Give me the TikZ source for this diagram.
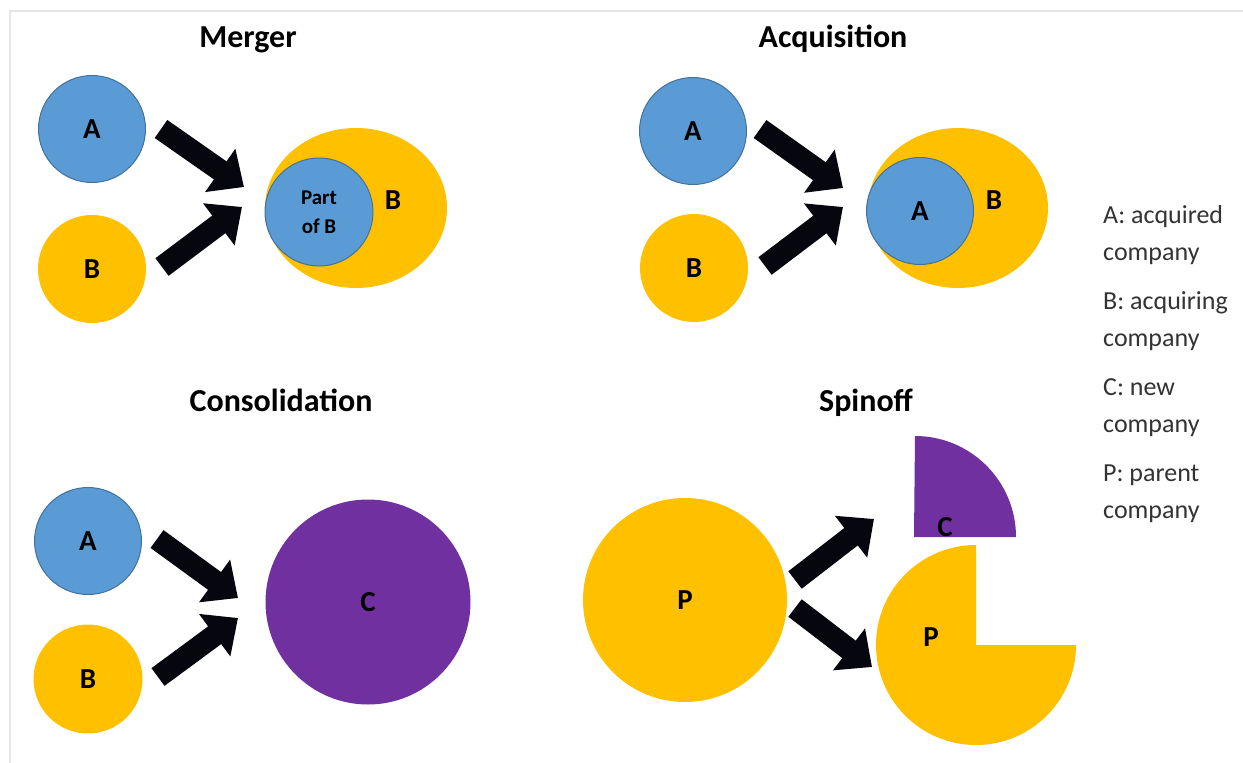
\documentclass[tikz,border=0pt]{standalone}
\usepackage{fontspec}
\setmainfont{Carlito}
\usetikzlibrary{arrows.meta,shapes.geometric}

\definecolor{coblue}{HTML}{5B9BD5}
\definecolor{coblueline}{HTML}{41719C}
\definecolor{cogold}{HTML}{FFC000}
\definecolor{copurple}{HTML}{7030A0}
\definecolor{coarrow}{HTML}{06060E}
\definecolor{coframe}{HTML}{E6E6E6}
\definecolor{colegend}{HTML}{333333}

\tikzset{
  title/.style={font=\fontsize{32}{36}\selectfont\bfseries, anchor=base},
  firm/.style={circle, inner sep=0pt, font=\fontsize{29}{32}\selectfont\bfseries},
  firmA/.style={firm, fill=coblue, draw=coblueline, line width=1pt},
  firmB/.style={firm, fill=cogold},
  firmC/.style={firm, fill=copurple},
  letter/.style={font=\fontsize{29}{32}\selectfont\bfseries, inner sep=0pt},
  blockarrow/.style={draw=coarrow, line width=22pt,
    -{Triangle[length=29pt, width=51pt]}},
  legend/.style={font=\fontsize{26}{30}\selectfont, text=colegend,
    anchor=base west, inner sep=0pt},
}

\begin{document}
\begin{tikzpicture}[x=1pt, y=-1pt]
  \useasboundingbox (0,0) rectangle (1243,763);
  \fill[white] (0,0) rectangle (1243,763);
  % frame lines along the top and left edges
  \draw[coframe, line width=2pt] (10.3,763) -- (10.3,11) -- (1243,11);

  % ---------------- Merger ----------------
  \node[title] (tmerger) at (248,47) {Merger};
  \node[firmA, minimum size=107pt] (mA) at (92,129) {A};
  \node[firmB, minimum size=108pt] (mB) at (92,269) {B};
  \node[ellipse, fill=cogold, minimum width=182pt, minimum height=160pt,
        inner sep=0pt] (mBig) at (356,208) {};
  \node[firmA, minimum size=108pt, font=\fontsize{21}{29}\selectfont\bfseries,
        align=center] (mPart) at (319,212) {Part\\of B};
  \node[letter] (mBlabel) at (393,200) {B};
  \coordinate (mAt) at (161,129);
  \coordinate (mAh) at (244,187);
  \coordinate (mBt) at (162,267);
  \coordinate (mBh) at (242,207);
  \draw[blockarrow] (mAt) -- (mAh);
  \draw[blockarrow] (mBt) -- (mBh);

  % ---------------- Acquisition ----------------
  \node[title] (tacq) at (833,47) {Acquisition};
  \node[firmA, minimum size=107pt] (aA) at (693,131) {A};
  \node[firmB, minimum size=108pt] (aB) at (694,268) {B};
  \node[ellipse, fill=cogold, minimum width=180pt, minimum height=160pt,
        inner sep=0pt] (aBig) at (958,208) {};
  \node[firmA, minimum size=107pt] (aIn) at (920,211) {A};
  \node[letter] (aBlabel) at (994,200) {B};
  \coordinate (aAt) at (760,129);
  \coordinate (aAh) at (843,188);
  \coordinate (aBt) at (765,266);
  \coordinate (aBh) at (843,207);
  \draw[blockarrow] (aAt) -- (aAh);
  \draw[blockarrow] (aBt) -- (aBh);

  % ---------------- Consolidation ----------------
  \node[title] (tcons) at (281,411) {Consolidation};
  \node[firmA, minimum size=107pt] (cA) at (88,541) {A};
  \node[firmB, minimum size=109pt] (cB) at (88,679) {B};
  \node[firmC, minimum size=205pt] (cC) at (368,602) {C};
  \coordinate (cAt) at (157,539);
  \coordinate (cAh) at (238,598);
  \coordinate (cBt) at (158,677);
  \coordinate (cBh) at (238,618);
  \draw[blockarrow] (cAt) -- (cAh);
  \draw[blockarrow] (cBt) -- (cBh);

  % ---------------- Spinoff ----------------
  \node[title] (tspin) at (866,411) {Spinoff};
  \node[firmB, minimum size=204pt] (sP) at (685,600) {P};
  % the spun-off quarter
  \fill[copurple] (914,537) -- (1016,537) arc[start angle=0, end angle=-90, radius=101] -- cycle;
  \node[letter] (sClabel) at (945,527) {C};
  % what remains of the parent
  \fill[cogold] (976,645) -- (976,545) arc[start angle=-90, end angle=-360, radius=100] -- cycle;
  \node[letter] (sPlabel) at (931,637) {P};
  \coordinate (sCt) at (795,580);
  \coordinate (sCh) at (874,519);
  \coordinate (sPt) at (795,608);
  \coordinate (sPh) at (872,667);
  \draw[blockarrow] (sCt) -- (sCh);
  \draw[blockarrow] (sPt) -- (sPh);

  % ---------------- Legend ----------------
  \node[legend] (lA1) at (1103,223) {A: acquired};
  \node[legend] (lA2) at (1103,260) {company};
  \node[legend] (lB1) at (1103,309) {B: acquiring};
  \node[legend] (lB2) at (1103,346) {company};
  \node[legend] (lC1) at (1103,395) {C: new};
  \node[legend] (lC2) at (1103,432) {company};
  \node[legend] (lP1) at (1103,481) {P: parent};
  \node[legend] (lP2) at (1103,518) {company};
\end{tikzpicture}
\end{document}
